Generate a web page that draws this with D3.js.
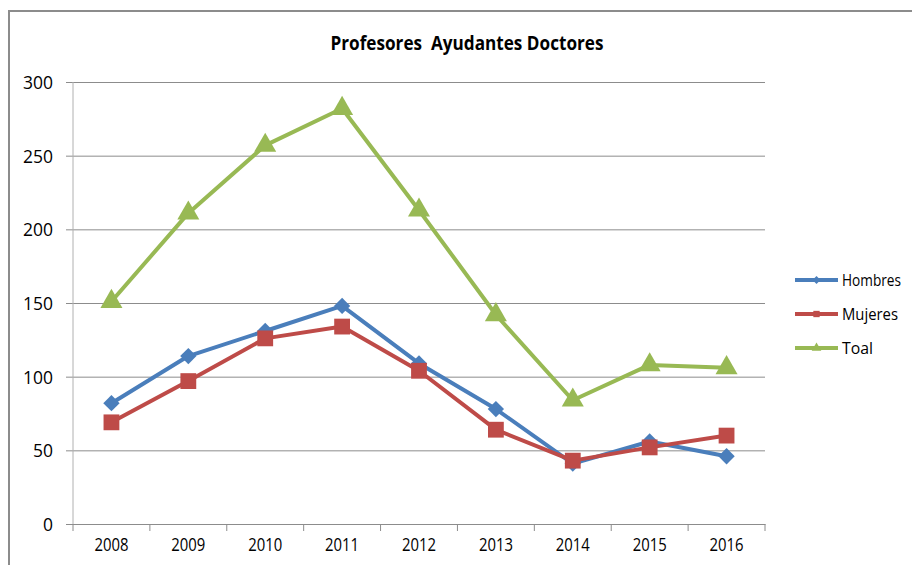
<!DOCTYPE html>
<html>
<head>
<meta charset="utf-8">
<script src="https://cdn.jsdelivr.net/npm/d3@7"></script>
<style>
  body { margin: 0; background: #fff; }
  text { font-family: "Open Sans", "Liberation Sans", Arial, sans-serif; fill: #000; }
</style>
</head>
<body>
<div id="chart"></div>
<script>
// values
var years = ["2008","2009","2010","2011","2012","2013","2014","2015","2016"]
var hombres = [82,114,131,148,109,78,41,56,46]
var mujeres = [69,97,126,134,104,64,43,52,60]
var toal = [151,211,257,282,213,142,84,108,106]
var yTicks = [0,50,100,150,200,250,300]
var seriesNames = ["Hombres","Mujeres","Toal"]

var width = 912, height = 565,
    margin = ({ top: 82, right: 147, bottom: 41, left: 73 });

var svg = d3.select("#chart").append("svg")
    .attr("width", width)
    .attr("height", height);

// outer frame (only top and left edges are visible)
svg.append("path")
    .attr("d", "M9,565V11H912")
    .attr("fill", "none")
    .attr("stroke", "#8c8c8c")
    .attr("stroke-width", 2);

svg.append("text")
    .attr("x", 467)
    .attr("y", 50)
    .attr("text-anchor", "middle")
    .attr("font-size", 19)
    .attr("font-weight", "bold")
    .attr("textLength", 273)
    .attr("lengthAdjust", "spacingAndGlyphs")
    .style("white-space", "pre")
    .text("Profesores  Ayudantes Doctores");

let x = d3.scaleBand()
    .domain(years)
    .range([margin.left, width - margin.right])
    .padding(0);

let y = d3.scaleLinear()
    .domain([0, 300])
    .range([height - margin.bottom, margin.top]);

// gridlines + y labels
let yAxis = svg.append("g")
    .attr("transform", `translate(${margin.left},0)`)
    .call(d3.axisLeft(y).tickValues(yTicks)
        .tickSize(-(width - margin.right - margin.left))
        .tickPadding(20)
        .tickSizeOuter(0));
yAxis.select(".domain").remove();
yAxis.selectAll(".tick line")
    .attr("x1", -7)
    .attr("stroke", "#8c8c8c");
yAxis.selectAll(".tick text")
    .attr("font-size", 18)
    .attr("dy", "0.36em")
    .attr("textLength", d => String(d).length * 10)
    .attr("lengthAdjust", "spacingAndGlyphs");

svg.append("line")
    .attr("x1", margin.left).attr("x2", margin.left)
    .attr("y1", y(300)).attr("y2", y(0))
    .attr("stroke", "#b0b0b0");

// x axis, ticks go between the categories
let xAxis = svg.append("g")
    .attr("transform", `translate(0,${y(0)})`)
    .call(d3.axisBottom(x).tickSize(0).tickPadding(14));
xAxis.select(".domain").attr("stroke", "#8c8c8c");
xAxis.selectAll(".tick text")
    .attr("font-size", 18)
    .attr("textLength", 34)
    .attr("lengthAdjust", "spacingAndGlyphs");

let bounds = years.map(d => x(d)).concat([x(years[years.length - 1]) + x.bandwidth()]);
svg.append("g")
    .attr("stroke", "#8c8c8c")
    .selectAll("line")
    .data(bounds)
    .join("line")
    .attr("x1", d => d).attr("x2", d => d)
    .attr("y1", y(0)).attr("y2", y(0) + 7);

var colors = ["#4a7ebb", "#be4b48", "#98b954"]
var symbols = [d3.symbolDiamond2, d3.symbolSquare, d3.symbolTriangle]
var sizes = [170, 250, 210]
var allSeries = [hombres, mujeres, toal]

let line = d3.line()
    .x((d, i) => x(years[i]) + x.bandwidth() / 2)
    .y(d => y(d));

allSeries.forEach(function(vals, k) {
    svg.append("path")
        .datum(vals)
        .attr("fill", "none")
        .attr("stroke", colors[k])
        .attr("stroke-width", 4)
        .attr("stroke-linejoin", "round")
        .attr("d", line);

    svg.append("g")
        .attr("fill", colors[k])
        .selectAll("path")
        .data(vals)
        .join("path")
        .attr("transform", (d, i) => `translate(${x(years[i]) + x.bandwidth() / 2},${y(d)})`)
        .attr("d", d3.symbol().type(symbols[k]).size(sizes[k]));
});

// legend
let legend = svg.append("g")
    .selectAll("g")
    .data(seriesNames)
    .join("g")
    .attr("transform", (d, i) => `translate(795,${[280, 314, 348][i]})`);

legend.append("line")
    .attr("x1", 0).attr("x2", 43)
    .attr("stroke", (d, i) => colors[i])
    .attr("stroke-width", 4);
legend.append("path")
    .attr("transform", "translate(21.5,0)")
    .attr("fill", (d, i) => colors[i])
    .attr("d", (d, i) => d3.symbol().type(symbols[i]).size(40)());
legend.append("text")
    .attr("x", 47)
    .attr("y", 6)
    .attr("font-size", 16)
    .attr("textLength", (d, i) => [59, 56, 31][i])
    .attr("lengthAdjust", "spacingAndGlyphs")
    .text(d => d);
</script>
</body>
</html>
